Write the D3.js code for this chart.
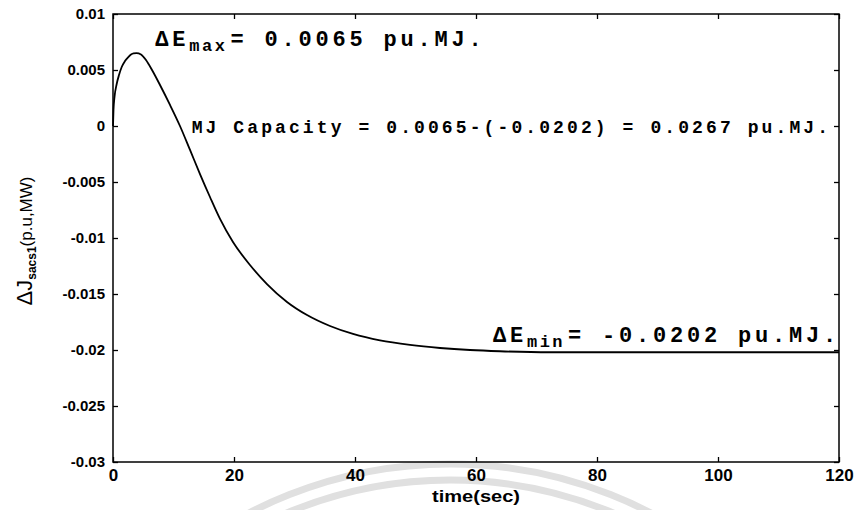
<!DOCTYPE html>
<html>
<head>
<meta charset="utf-8">
<script src="https://cdn.jsdelivr.net/npm/d3@7"></script>
<style>
  html, body { margin: 0; padding: 0; background: #fff; }
  svg { display: block; }
</style>
</head>
<body>
<svg id="chart" width="865" height="510"></svg>
<script>
// Energy deviation of the storage unit after the disturbance
const timeSec = [0, 0.08, 0.25, 0.61, 0.99, 1.44, 1.98, 2.53, 2.98, 3.39, 3.88, 4.63, 5.45, 6.45,
                 7.77, 9.42, 11.07, 12.73, 14.38, 16.03, 17.69, 19.83, 22.64, 25.45, 28.76, 32.07,
                 35.87, 39.67, 44.13, 49.09, 54.05, 59.0, 63.97, 72.2, 90, 120];
const deltaJ  = [0, 0.00143, 0.00259, 0.00375, 0.00455, 0.00527, 0.00580, 0.00616, 0.00638, 0.00648,
                 0.0065, 0.00638, 0.00589, 0.0050, 0.00366, 0.00188, 0, -0.00214, -0.00429, -0.00634,
                 -0.0083, -0.01036, -0.01241, -0.01411, -0.01571, -0.01688, -0.01786, -0.01857,
                 -0.01915, -0.01955, -0.01982, -0.0200, -0.02011, -0.0202, -0.0202, -0.0202];

const xTicks = [0, 20, 40, 60, 80, 100, 120];
const xTickLabels = ["0", "20", "40", "60", "80", "100", "120"];
const yTicks = [0.01, 0.005, 0, -0.005, -0.01, -0.015, -0.02, -0.025, -0.03];
const yTickLabels = ["0.01", "0.005", "0", "-0.005", "-0.01", "-0.015", "-0.02", "-0.025", "-0.03"];

const eMax = 0.0065;
const eMin = -0.0202;
const capacity = 0.0267;

const svg = d3.select("#chart");
const W = 865, H = 510;
const margin = { left: 113, right: 26, top: 14, bottom: 48 };
const x0 = margin.left, x1 = W - margin.right, y0 = margin.top, y1 = H - margin.bottom;

const x = d3.scaleLinear().domain([0, 120]).range([x0, x1]);
const y = d3.scaleLinear().domain([-0.03, 0.01]).range([y1, y0]);

// faint ring in the lower margin
const ring = svg.append("g").attr("fill", "none").attr("stroke", "#e0e0e0");
ring.append("circle").attr("cx", 450).attr("cy", 900).attr("r", 436).attr("stroke-width", 7);
ring.append("circle").attr("cx", 450).attr("cy", 900).attr("r", 420).attr("stroke-width", 7);

const tickFont = "'Liberation Sans', Arial, sans-serif";

// axes with inward ticks on all four sides
const gx = svg.append("g").attr("transform", `translate(0,${y1})`)
  .call(d3.axisBottom(x).tickValues(xTicks).tickFormat((d, i) => xTickLabels[i])
        .tickSizeInner(-5).tickSizeOuter(0).tickPadding(7));
const gxt = svg.append("g").attr("transform", `translate(0,${y0})`)
  .call(d3.axisTop(x).tickValues(xTicks).tickFormat("").tickSizeInner(-5).tickSizeOuter(0));
const gy = svg.append("g").attr("transform", `translate(${x0},0)`)
  .call(d3.axisLeft(y).tickValues(yTicks).tickFormat((d, i) => yTickLabels[i])
        .tickSizeInner(-5).tickSizeOuter(0).tickPadding(8));
const gyr = svg.append("g").attr("transform", `translate(${x1},0)`)
  .call(d3.axisRight(y).tickValues(yTicks).tickFormat("").tickSizeInner(-5).tickSizeOuter(0));

[gx, gxt, gy, gyr].forEach(g => {
  g.select(".domain").remove();
  g.selectAll(".tick line").attr("stroke", "#000").attr("stroke-width", 1.3);
  g.selectAll(".tick text").attr("fill", "#000")
    .style("font-family", tickFont).style("font-weight", "bold").style("font-size", "15px");
});
gx.selectAll(".tick text").style("font-size", "17px");

// frame
svg.append("rect").attr("x", x0).attr("y", y0).attr("width", x1 - x0).attr("height", y1 - y0)
  .attr("fill", "none").attr("stroke", "#000").attr("stroke-width", 1.5);

// curve
const line = d3.line().x((d, i) => x(timeSec[i])).y(d => y(d)).curve(d3.curveMonotoneX);
svg.append("path").datum(deltaJ).attr("d", line)
  .attr("fill", "none").attr("stroke", "#000").attr("stroke-width", 1.8);

// axis titles
svg.append("text").attr("x", (x0 + x1) / 2).attr("y", 502).attr("text-anchor", "middle")
  .style("font-family", tickFont).style("font-weight", "bold").style("font-size", "17px")
  .attr("textLength", 88).attr("lengthAdjust", "spacingAndGlyphs")
  .text("time(sec)");

const yl = svg.append("text").attr("transform", `translate(32,241) rotate(-90)`)
  .attr("text-anchor", "middle").style("font-family", tickFont).attr("fill", "#000");
yl.append("tspan").style("font-size", "22px").text("ΔJ");
yl.append("tspan").style("font-size", "12px").style("font-weight", "bold").attr("dy", 4).text("sacs1");
yl.append("tspan").style("font-size", "17px").attr("dy", -4).text("(p.u,MW)");

// annotations
const mono = "'Liberation Mono', 'Courier New', monospace";
function energyLabel(tx, vy, sub, rest) {
  const t = svg.append("text").attr("x", x(tx)).attr("y", y(vy))
    .style("font-family", mono).style("font-weight", "bold").attr("fill", "#000");
  t.append("tspan").style("font-size", "22px").style("letter-spacing", "3.8px").text("ΔE");
  t.append("tspan").style("font-size", "17px").style("letter-spacing", "2.5px").attr("dy", 5).text(sub);
  t.append("tspan").style("font-size", "22px").style("letter-spacing", "3.8px")
    .attr("dy", -5).attr("dx", 3).text(rest);
}
energyLabel(7, 0.00714, "max", `= ${eMax} pu.MJ.`);
energyLabel(62.8, -0.01929, "min", `= ${eMin} pu.MJ.`);

svg.append("text").attr("x", x(13)).attr("y", y(-0.0006))
  .style("font-family", mono).style("font-weight", "bold").style("font-size", "18px")
  .style("letter-spacing", "3.1px").attr("fill", "#000")
  .text(`MJ Capacity = ${eMax}-(${eMin}) = ${capacity} pu.MJ.`);
</script>
</body>
</html>
